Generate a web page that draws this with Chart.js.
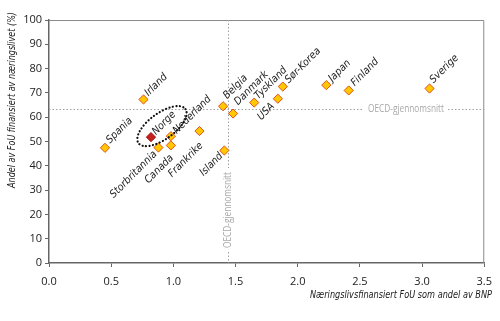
<!DOCTYPE html>
<html>
<head>
<meta charset="utf-8">
<script src="https://cdn.jsdelivr.net/npm/chart.js@4"></script>
<style>
  html, body { margin: 0; padding: 0; background: #fff; }
  #wrap { width: 500px; height: 321px; }
</style>
</head>
<body>
<div id="wrap"><canvas id="fouChart" width="500" height="321"></canvas></div>
<script>
// ===== data =====
const countries = ['Spania', 'Irland', 'Norge', 'Storbritannia', 'Canada', 'Nederland', 'Frankrike',
  'Island', 'Belgia', 'Danmark', 'Tyskland', 'USA', 'Sør-Korea', 'Japan', 'Finland', 'Sverige'];
const bnpShare = [0.45, 0.76, 0.82, 0.88, 0.98, 0.98, 1.21, 1.41, 1.40, 1.48, 1.65, 1.84, 1.88, 2.23, 2.41, 3.06];
const businessShare = [47.4, 67.3, 51.8, 47.5, 48.4, 52.2, 54.3, 46.3, 64.5, 61.5, 66.0, 67.6, 72.6, 73.2, 71.0, 71.8];
const oecdX = 1.44;
const oecdY = 63.2;
const xTicks = [0, 0.5, 1, 1.5, 2, 2.5, 3, 3.5];

const points = bnpShare.map((x, i) => ({ x: x, y: businessShare[i] }));
const fillColors = countries.map(c => c === 'Norge' ? '#c8201e' : '#ffc800');
const edgeColors = countries.map(c => c === 'Norge' ? '#9a1010' : '#e0501e');

// label placement (px from the marker). side 1: text starts there and runs up-right,
// side -1: text ends there (runs in from the lower left)
const labelPos = {
  'Spania': [1, 5, -4], 'Irland': [1, 5, -3], 'Norge': [1, 5, -2], 'Nederland': [1, 6, -2],
  'Belgia': [1, 4, -7], 'Danmark': [1, 5, -8], 'Tyskland': [1, 4, -3], 'Sør-Korea': [1, 6, -3],
  'Japan': [1, 6, -3], 'Finland': [1, 6, -4], 'Sverige': [1, 4, -5],
  'Storbritannia': [-1, -1, 7], 'Canada': [-1, 3, 13], 'Frankrike': [-1, 4, 15],
  'Island': [-1, -1, 6], 'USA': [-1, -3, 8]
};

const condensed = '"DejaVu Sans Condensed", "Open Sans", sans-serif';

// draw text squeezed to a given width (the original uses a narrow font)
function fitText(ctx, text, w) {
  const m = ctx.measureText(text).width;
  const k = Math.min(1, w / m);
  ctx.save();
  ctx.scale(k, 1);
  ctx.fillText(text, 0, 0);
  ctx.restore();
}

// ===== overlay: frame, OECD lines, labels, ellipse =====
const overlay = {
  id: 'overlay',
  beforeDatasetsDraw(chart) {
    const { ctx, chartArea: a, scales: { x, y } } = chart;
    ctx.save();
    // frame top/right
    ctx.strokeStyle = '#8a8a8a';
    ctx.lineWidth = 1;
    ctx.beginPath();
    ctx.moveTo(a.left, a.top + 0.5);
    ctx.lineTo(a.right - 0.5, a.top + 0.5);
    ctx.lineTo(a.right - 0.5, a.bottom);
    ctx.stroke();

    // OECD lines
    ctx.strokeStyle = '#a0a0a0';
    ctx.setLineDash([1.5, 2]);
    const hy = Math.round(y.getPixelForValue(oecdY)) + 0.5;
    const vx = Math.round(x.getPixelForValue(oecdX)) + 0.5;
    ctx.font = '10px "Open Sans", sans-serif';
    const txt = 'OECD-gjennomsnitt';
    const tw = 76;
    const hTxtX = 368;
    ctx.beginPath();
    ctx.moveTo(a.left, hy); ctx.lineTo(hTxtX - 4, hy);
    ctx.moveTo(hTxtX + tw + 4, hy); ctx.lineTo(a.right, hy);
    const vTxtY = 248;
    ctx.moveTo(vx, a.top); ctx.lineTo(vx, vTxtY - tw - 4);
    ctx.moveTo(vx, vTxtY + 4); ctx.lineTo(vx, a.bottom);
    ctx.stroke();
    ctx.setLineDash([]);
    ctx.fillStyle = '#a8a8a8';
    ctx.textBaseline = 'middle';
    ctx.textAlign = 'left';
    ctx.save();
    ctx.translate(hTxtX, hy);
    fitText(ctx, txt, tw);
    ctx.restore();
    ctx.translate(vx, vTxtY);
    ctx.rotate(-Math.PI / 2);
    fitText(ctx, txt, tw);
    ctx.restore();
  },
  afterDatasetsDraw(chart) {
    const { ctx, scales: { x, y } } = chart;
    ctx.save();
    ctx.font = 'italic 10.5px ' + condensed;
    ctx.fillStyle = '#1a1a1a';
    ctx.textBaseline = 'alphabetic';
    countries.forEach((name, i) => {
      const px = x.getPixelForValue(bnpShare[i]);
      const py = y.getPixelForValue(businessShare[i]);
      const [side, dx, dy] = labelPos[name];
      ctx.save();
      ctx.translate(px + dx, py + dy);
      ctx.textAlign = side > 0 ? 'left' : 'right';
      ctx.rotate(-Math.PI / 4);
      ctx.fillText(name, 0, 0);
      ctx.restore();
    });

    // dotted ellipse around Norge
    const ni = countries.indexOf('Norge');
    const nx = x.getPixelForValue(bnpShare[ni]);
    const ny = y.getPixelForValue(businessShare[ni]);
    ctx.strokeStyle = '#111';
    ctx.lineWidth = 2.2;
    ctx.lineCap = 'round';
    ctx.setLineDash([0.1, 3.4]);
    ctx.beginPath();
    ctx.ellipse(nx + 11, ny - 11, 29, 13, -Math.PI / 5, 0, Math.PI * 2);
    ctx.stroke();
    ctx.restore();

    // axis titles
    ctx.save();
    ctx.font = 'italic 11px ' + condensed;
    ctx.fillStyle = '#1a1a1a';
    ctx.textBaseline = 'middle';
    ctx.textAlign = 'right';
    ctx.save();
    ctx.translate(492, 295);
    fitText(ctx, 'Næringslivsfinansiert FoU som andel av BNP', 182);
    ctx.restore();
    ctx.translate(12, 100);
    ctx.rotate(-Math.PI / 2);
    ctx.textAlign = 'center';
    fitText(ctx, 'Andel av FoU finansiert av næringslivet (%)', 176);
    ctx.restore();
  }
};

new Chart(document.getElementById('fouChart'), {
  type: 'scatter',
  data: {
    datasets: [{
      data: points,
      pointStyle: 'rectRot',
      pointRadius: 4.6,
      pointBackgroundColor: fillColors,
      pointBorderColor: edgeColors,
      pointBorderWidth: 1
    }]
  },
  options: {
    responsive: false,
    animation: false,
    layout: { padding: { top: 20, right: 11, bottom: 28, left: 0 } },
    plugins: {
      legend: { display: false },
      tooltip: { enabled: false }
    },
    scales: {
      x: {
        type: 'linear',
        min: 0, max: 3.5,
        afterBuildTicks: s => { s.ticks = xTicks.map(v => ({ value: v })); },
        afterFit: s => { s.height = 30; },
        grid: { drawOnChartArea: false, tickLength: 4, color: '#666' },
        border: { color: '#666', width: 1.5 },
        ticks: {
          padding: 8,
          color: '#222',
          font: { family: '"Open Sans", sans-serif', size: 11 },
          callback: v => v.toFixed(1)
        }
      },
      y: {
        min: 0, max: 100,
        afterFit: s => { s.width = 49; },
        grid: { drawOnChartArea: false, tickLength: 4, color: '#666' },
        border: { color: '#666', width: 1.5 },
        ticks: {
          stepSize: 10,
          padding: 3,
          color: '#222',
          font: { family: '"Open Sans", sans-serif', size: 11 }
        }
      }
    }
  },
  plugins: [overlay]
});
</script>
</body>
</html>
